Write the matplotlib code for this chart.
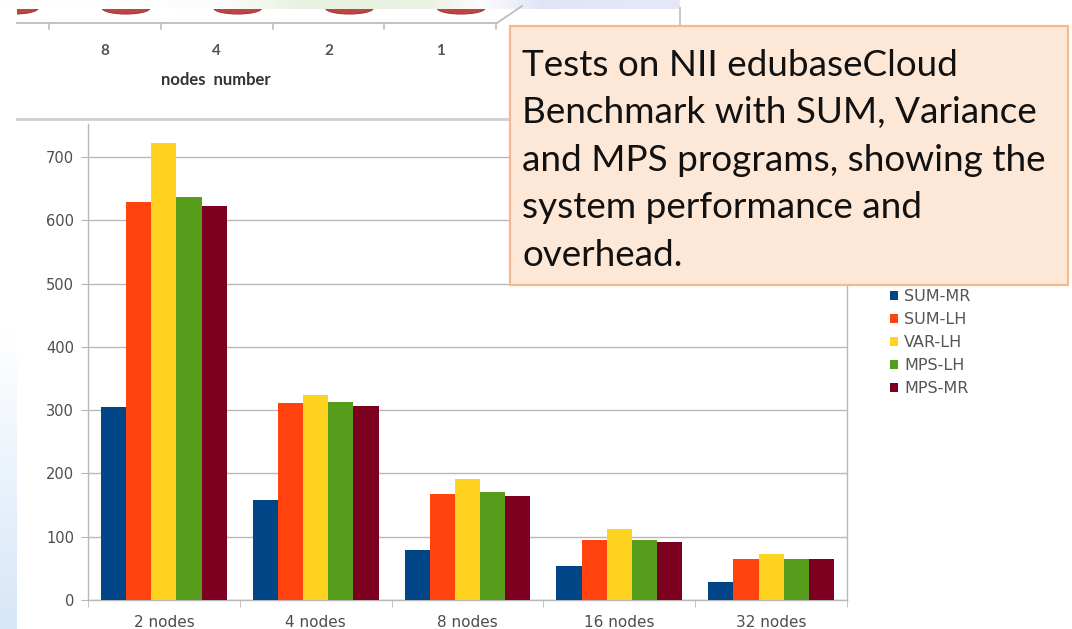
import numpy as np
import matplotlib
matplotlib.use("Agg")
import matplotlib.pyplot as plt
from matplotlib.patches import Rectangle, Ellipse

# main bar chart data
categories = ["2 nodes", "4 nodes", "8 nodes", "16 nodes", "32 nodes"]
series_names = ["SUM-MR", "SUM-LH", "VAR-LH", "MPS-LH", "MPS-MR"]
sum_mr = [305, 158, 79, 53, 29]
sum_lh = [629, 311, 167, 95, 64]
var_lh = [722, 324, 191, 112, 73]
mps_lh = [636, 313, 171, 95, 64]
mps_mr = [622, 306, 165, 92, 64]
y_ticks = [0, 100, 200, 300, 400, 500, 600, 700]

# remnant of the chart above (cropped)
top_labels = ["8", "4", "2", "1"]
top_xlabel = "nodes  number"

note = ["Tests on NII edubaseCloud",
        "Benchmark with SUM, Variance",
        "and MPS programs, showing the",
        "system performance and",
        "overhead."]

COLORS = ["#004586", "#ff420e", "#ffd320", "#579d1c", "#7e0021"]
GRID = "#b8b8b8"
TXT = "#4d4d4d"
W, H = 1072, 629

fig = plt.figure(figsize=(W / 100, H / 100), dpi=100)
fig.patch.set_facecolor("white")

# background layer in pixel coords
bg = fig.add_axes([0, 0, 1, 1], zorder=0)
bg.set_xlim(0, W)
bg.set_ylim(H, 0)
bg.axis("off")

# slide background bits: pale strip on top, blue fade on the left edge
top_row = np.ones((1, 680, 3))
xs = np.arange(680)
top_row[0, :, 0] = np.interp(xs, [0, 220, 300, 430, 480, 540, 680], [1, .99, .91, .92, .99, .88, .90])
top_row[0, :, 1] = np.interp(xs, [0, 220, 300, 430, 480, 540, 680], [1, .99, .95, .95, .99, .90, .91])
top_row[0, :, 2] = np.interp(xs, [0, 220, 300, 430, 480, 540, 680], [1, .99, .88, .89, .99, .96, .97])
bg.imshow(top_row, extent=(0, 680, 9, 0), aspect="auto", zorder=0)
left_col = np.ones((300, 1, 3))
ys = np.linspace(0, 1, 300)
left_col[:, 0, 0] = np.interp(ys, [0, .3, 1], [1, .95, .84])
left_col[:, 0, 1] = np.interp(ys, [0, .3, 1], [1, .97, .90])
left_col[:, 0, 2] = np.interp(ys, [0, .3, 1], [1, .99, .97])
bg.imshow(left_col, extent=(0, 17, H, 330), aspect="auto", zorder=0)

bg.plot([680, 680], [8, 27], color="#c8c8c8", lw=1.5, zorder=1)
bg.plot([17, 510], [118.5, 118.5], color="#cfcfcf", lw=2, zorder=1)

# remnant chart: cylinder bottoms, axis, labels
step = 111.7
label_x = 105 + step * np.arange(len(top_labels))
cyl_x = np.concatenate([[label_x[0] - step], label_x]) + 21
clip = Rectangle((17, 9), 663, 100, transform=bg.transData)
for cx in cyl_x:
    e = Ellipse((cx, 8), 48, 12, facecolor="#bd4543", edgecolor="#a33836", lw=0.8, zorder=2)
    bg.add_patch(e)
    e.set_clip_path(clip)
bg.plot([17, 497, 522], [23, 23, 6], color="#bdbdbd", lw=1.3, zorder=2)
for tx in np.concatenate([label_x - step / 2, [label_x[-1] + step / 2]]):
    bg.plot([tx, tx], [23, 29], color="#bdbdbd", lw=1.2, zorder=2)
for lx, lab in zip(label_x, top_labels):
    bg.text(lx, 51, lab, ha="center", va="center", fontsize=11, color="#555555",
            family="Lato", fontweight="bold")
bg.text(216, 80, top_xlabel, ha="center", va="center", fontsize=12,
        color="#333333", family="Lato", fontweight="bold")

# main chart
ax = fig.add_axes([88 / W, (H - 600) / H, 759 / W, 476 / H], zorder=1)
ax.set_facecolor("none")
x = np.arange(len(categories))
bw = 0.166
for i, (name, vals) in enumerate(zip(series_names, [sum_mr, sum_lh, var_lh, mps_lh, mps_mr])):
    ax.bar(x + (i - 2) * bw, vals, width=bw, color=COLORS[i], label=name, zorder=3)
ax.set_xlim(-0.5, len(categories) - 0.5)
ax.set_ylim(0, 752)
ax.set_yticks(y_ticks)
ax.set_yticklabels([str(v) for v in y_ticks])
ax.yaxis.grid(True, color=GRID, lw=1.0, zorder=0)
ax.set_xticks(x)
ax.set_xticklabels(categories)
ax.set_xticks(np.arange(len(categories) + 1) - 0.5, minor=True)
ax.tick_params(axis="x", which="major", length=0, pad=11, labelsize=11, labelcolor=TXT)
ax.tick_params(axis="x", which="minor", length=5, color=GRID, direction="out")
ax.tick_params(axis="y", length=5, color=GRID, pad=5, labelsize=10.5, labelcolor=TXT)
ax.spines["top"].set_visible(False)
for s in ("left", "bottom", "right"):
    ax.spines[s].set_color(GRID)
    ax.spines[s].set_linewidth(1.0)

leg = fig.legend(loc="upper left", bbox_to_anchor=(890 / W, 1 - 289 / H), frameon=False,
                 fontsize=11.5, handlelength=0.5, handleheight=0.5, handletextpad=0.4,
                 labelspacing=0.5, borderpad=0, borderaxespad=0)
for t in leg.get_texts():
    t.set_color("#555555")

# annotation box on top of everything
top = fig.add_axes([0, 0, 1, 1], zorder=5)
top.set_xlim(0, W)
top.set_ylim(H, 0)
top.axis("off")
top.add_patch(Rectangle((510, 26), 558, 259, facecolor="#fde8d8", edgecolor="#f7b98c", lw=1.6))
for k, line in enumerate(note):
    top.text(522, 76 + 47.5 * k, line, ha="left", va="baseline", fontsize=26.6,
             color="#111111", family="Lato")

fig.savefig("out.png", dpi=100)
